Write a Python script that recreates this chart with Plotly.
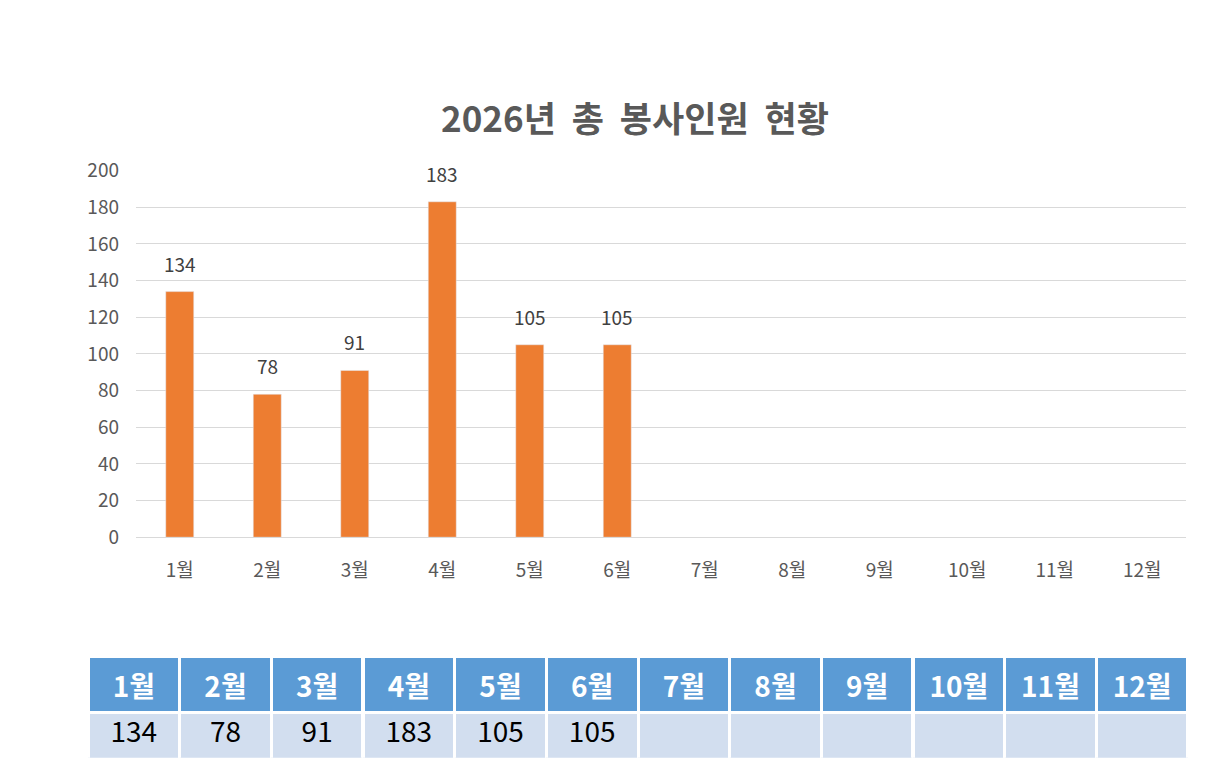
import plotly.graph_objects as go

months = ["1월", "2월", "3월", "4월", "5월", "6월", "7월", "8월", "9월", "10월", "11월", "12월"]
volunteers = [134, 78, 91, 183, 105, 105, None, None, None, None, None, None]
y_ticks = [0, 20, 40, 60, 80, 100, 120, 140, 160, 180, 200]

# the page body has an 8px margin, so the figure is a little smaller than the window
W, H = 1210, 767
OFF = 8
FONT = "Noto Sans CJK KR"


def px_x(x):
    return (x - OFF) / W


def px_y(y):
    return 1 - (y - OFF) / H


fig = go.Figure()

fig.add_trace(go.Bar(
    x=months,
    y=volunteers,
    marker_color="#ED7D31",
    width=0.32,
    hoverinfo="x+y",
))

# value labels above the bars
for m, v in zip(months, volunteers):
    if v is None:
        continue
    fig.add_annotation(
        x=m, y=v, text=str(v), showarrow=False,
        yanchor="bottom", yshift=13,
        font=dict(family=FONT, size=19, color="#404040"),
    )

table_values = [[str(v) if v is not None else ""] for v in volunteers]
fig.add_trace(go.Table(
    domain=dict(x=[px_x(88), px_x(1188)], y=[px_y(770), px_y(665)]),
    header=dict(
        values=["<b>%s</b>" % m for m in months],
        fill_color="#5B9BD5",
        line=dict(color="white", width=3),
        align="center",
        height=51,
        font=dict(family=FONT, size=28, color="white"),
    ),
    cells=dict(
        values=table_values,
        fill_color="#D2DEEF",
        line=dict(color="white", width=3),
        align="center",
        height=52,
        font=dict(family=FONT, size=28, color="black"),
    ),
))

fig.update_layout(
    width=W,
    height=H,
    margin=dict(l=0, r=0, t=0, b=0),
    paper_bgcolor="white",
    plot_bgcolor="white",
    showlegend=False,
    title=dict(
        text="<b>2026년  총  봉사인원  현황</b>",
        x=px_x(635),
        xanchor="center",
        y=px_y(120),
        yanchor="middle",
        font=dict(family=FONT, size=35, color="#595959"),
    ),
    xaxis=dict(
        domain=[px_x(136), px_x(1186)],
        categoryorder="array",
        categoryarray=months,
        tickfont=dict(family=FONT, size=19, color="#595959"),
        showgrid=False,
        showline=True,
        linecolor="#D9D9D9",
        ticks="",
        ticklabelstandoff=16,
    ),
    yaxis=dict(
        domain=[px_y(541), px_y(161)],
        range=[0, 200],
        tickvals=y_ticks,
        tickfont=dict(family=FONT, size=19, color="#595959"),
        gridcolor="#D9D9D9",
        zeroline=False,
        ticks="",
        ticklabelstandoff=16,
    ),
)

fig.write_html("out.html")
